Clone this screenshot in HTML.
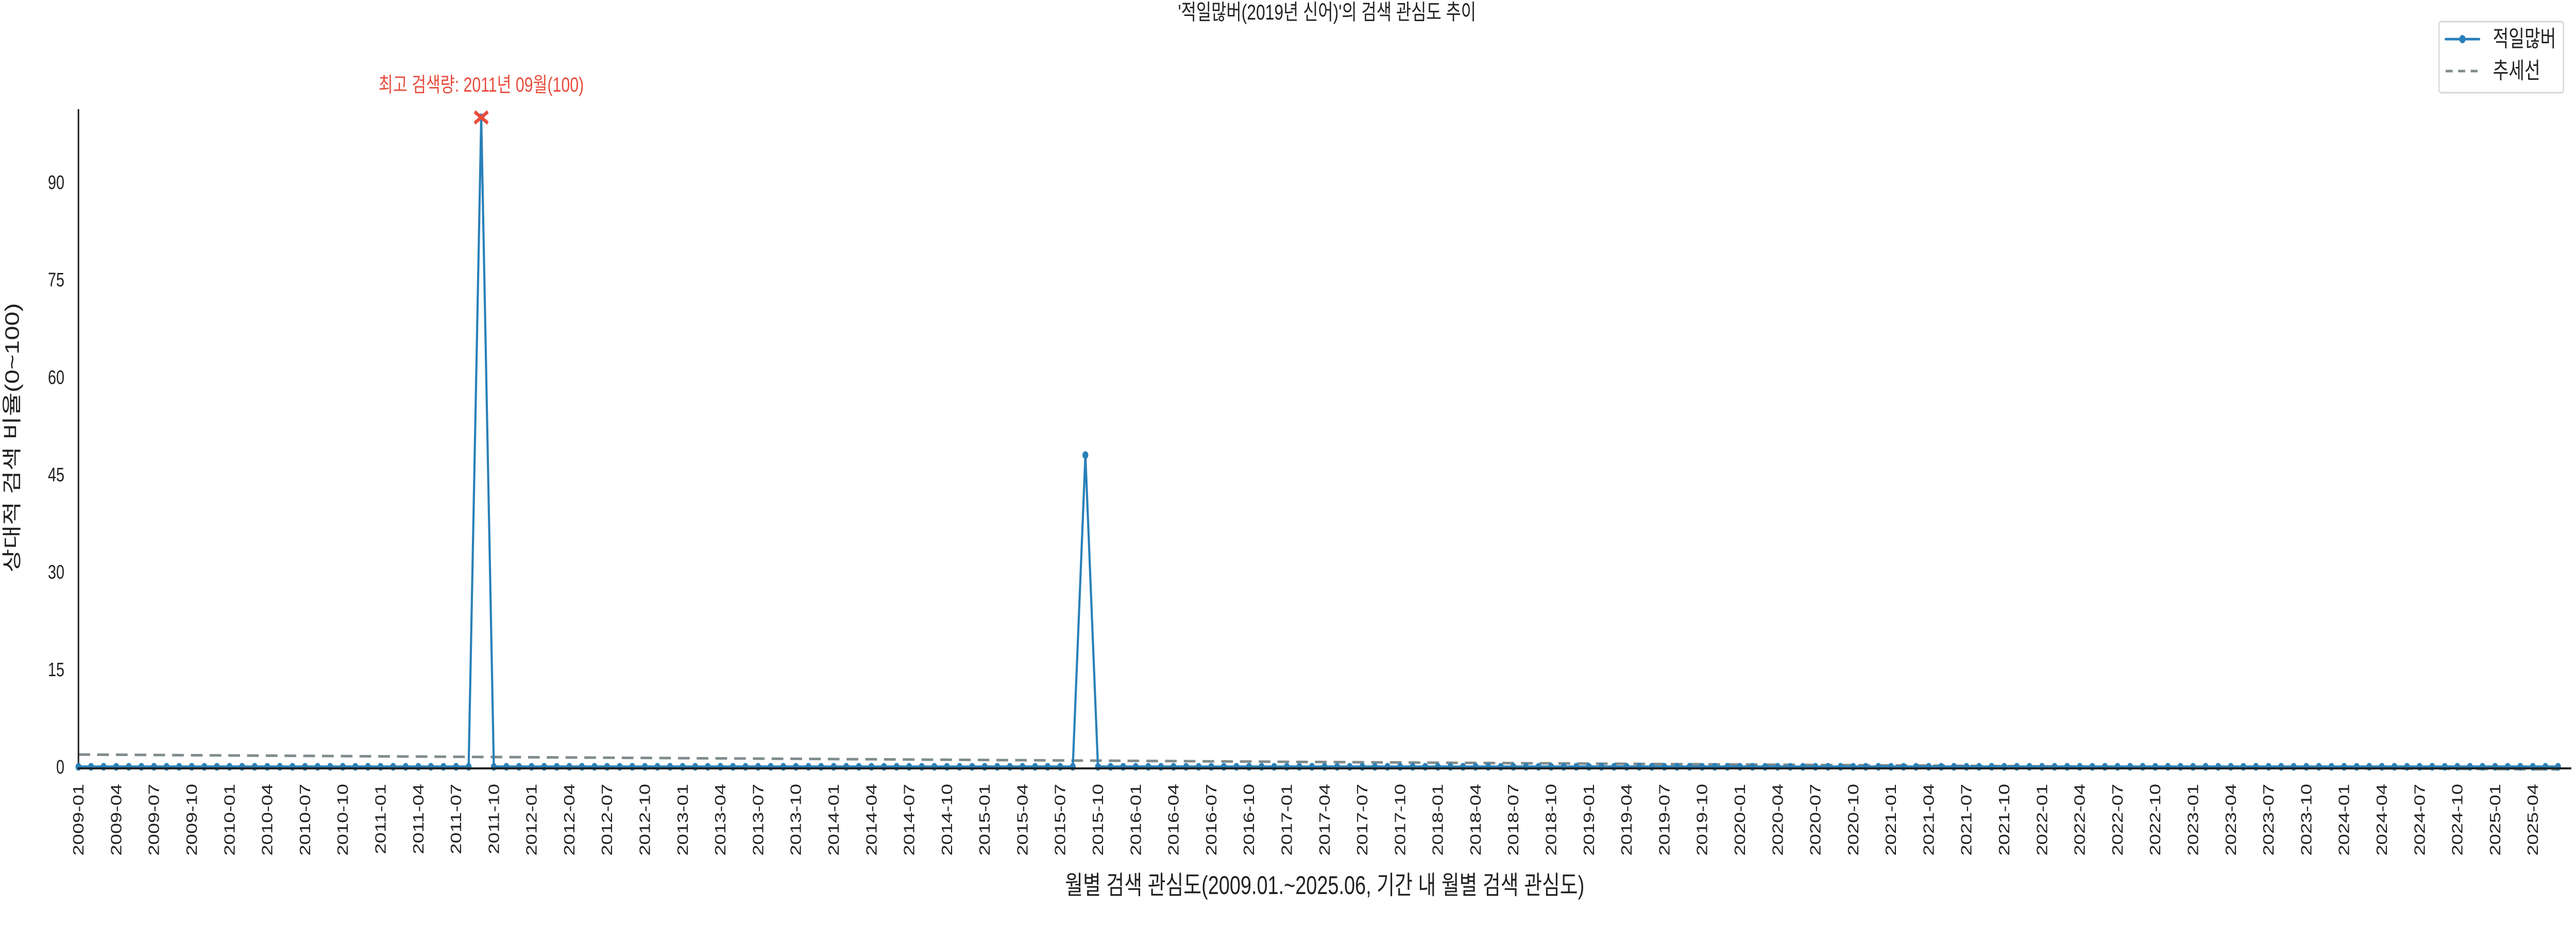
<!DOCTYPE html>
<html><head><meta charset="utf-8"><style>
html,body{margin:0;padding:0;background:#fff;overflow:hidden;width:100%;height:100%;}
#chart{position:fixed;left:0;top:0;width:100vw;height:100vh;display:block;}
svg text{font-family:"Liberation Sans","Noto Sans CJK KR",sans-serif;}
</style></head><body>
<svg id="chart" viewBox="0 0 6600 1800" preserveAspectRatio="none" xmlns="http://www.w3.org/2000/svg">
<text x="3400" y="38" font-size="42" text-anchor="middle" fill="#222">'적일많버(2019년 신어)'의 검색 관심도 추이</text>
<g id="plot"></g>
<text transform="translate(48,850) rotate(-90)" font-size="50" text-anchor="middle" fill="#222">상대적 검색 비율(0~100)</text>
<text x="3394" y="1736" font-size="50" text-anchor="middle" fill="#222">월별 검색 관심도(2009.01.~2025.06, 기간 내 월별 검색 관심도)</text>
<g>
<rect x="6249" y="42" width="319" height="138" rx="6" fill="#fff" stroke="#d6d6d6" stroke-width="3"/>
<g>
<line x1="6266" y1="76" x2="6352" y2="76" stroke="#2980b9" stroke-width="5" stroke-linecap="round"/>
<circle cx="6309" cy="76" r="8" fill="#2980b9"/>
<text x="6387" y="90" font-size="44" fill="#222">적일많버</text>
</g>
<g>
<line x1="6266" y1="138" x2="6352" y2="138" stroke="#7f8c8d" stroke-width="5" stroke-dasharray="18,14"/>
<text x="6387" y="152" font-size="44" fill="#222">추세선</text>
</g>
</g>
</svg>
<script>
const startYear = 2009;
const monthCount = 198;
const peakIdx = [32, 80];
const peakVals = [100, 48];
const yTicks = [0, 15, 30, 45, 60, 75, 90];
const annotationText = "최고 검색량: 2011년 09월(100)";

const values = [];
for (let i = 0; i < monthCount; i++) values.push(0);
peakIdx.forEach((k, j) => { values[k] = peakVals[j]; });

const X0 = 201, X1 = 6554, AXR = 6588, Y0 = 1489, YTOP = 212;
const YMAX = (Y0 - YTOP) / 12.61;
const xs = i => X0 + (X1 - X0) * i / (monthCount - 1);
const ys = v => Y0 - (Y0 - YTOP) * v / YMAX;
const NS = "http://www.w3.org/2000/svg";
const plot = document.getElementById('plot');
function mk(tag, attrs, parent) {
  const e = document.createElementNS(NS, tag);
  for (const k in attrs) e.setAttribute(k, attrs[k]);
  (parent || plot).appendChild(e);
  return e;
}

yTicks.forEach(t => {
  const tx = mk('text', {x: 165, y: ys(t) + 13, 'font-size': 38, 'text-anchor': 'end', fill: '#222'});
  
  
  tx.textContent = t;
});
for (let i = 0; i < monthCount; i += 3) {
  const y = startYear + Math.floor(i / 12), m = (i % 12) + 1;
  const lab = y + '-' + String(m).padStart(2, '0');
  const tx = mk('text', {transform: `translate(${xs(i) + 13},1522) rotate(-90)`, 'font-size': 38, 'text-anchor': 'end', fill: '#222'});
  
  
  tx.textContent = lab;
}

const n = values.length;
const mx = (n - 1) / 2, my = values.reduce((a, b) => a + b, 0) / n;
let sxy = 0, sxx = 0;
values.forEach((v, i) => { sxy += (i - mx) * (v - my); sxx += (i - mx) * (i - mx); });
const slope = sxy / sxx, icpt = my - slope * mx;
const trend = mk('line', {x1: xs(0), y1: ys(icpt), x2: xs(n - 1), y2: ys(icpt + slope * (n - 1)), stroke: '#7f8c8d', 'stroke-width': 5, 'stroke-dasharray': '30,18'});



const ya = mk('line', {x1: X0, y1: YTOP, x2: X0, y2: Y0 + 2, stroke: '#222', 'stroke-width': 4});



const pts = values.map((v, i) => xs(i).toFixed(1) + ',' + ys(v).toFixed(1)).join(' ');
const line = mk('polyline', {points: pts, fill: 'none', stroke: '#2980b9', 'stroke-width': 5.5, 'stroke-linejoin': 'miter'});


values.forEach((v, i) => {
  const c = mk('circle', {cx: xs(i), cy: ys(v), r: 7.5, fill: '#2980b9'});
  
  
});

const xa = mk('line', {x1: X0 - 2, y1: Y0 + 3, x2: AXR, y2: Y0 + 3, stroke: '#222', 'stroke-width': 4});



let maxI = 0;
values.forEach((v, i) => { if (v > values[maxI]) maxI = i; });
const mxp = xs(maxI), myp = ys(values[maxI]);
const mg = mk('g', {stroke: '#e74c3c', 'stroke-width': 7});


mk('line', {x1: mxp - 17, y1: myp - 11, x2: mxp + 17, y2: myp + 11}, mg);
mk('line', {x1: mxp - 17, y1: myp + 11, x2: mxp + 17, y2: myp - 11}, mg);
const at = mk('text', {x: mxp, y: myp - 50, 'font-size': 40, 'text-anchor': 'middle', fill: '#e74c3c'});


at.textContent = annotationText;
</script>
</body></html>
